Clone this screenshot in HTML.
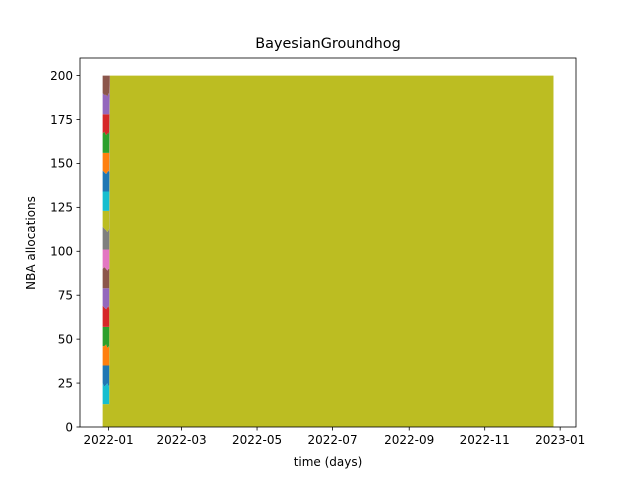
<!DOCTYPE html>
<html><head><meta charset="utf-8"><style>
body{margin:0;background:#fff;}
svg text{font-family:"DejaVu Sans","Liberation Sans",sans-serif;}
</style></head><body>
<svg id="chart" width="640" height="480">
<rect width="640" height="480" fill="#fff"/>
<g id="plot"></g>
<g id="axes"></g>
<text x="328" y="48" font-size="14.4" text-anchor="middle">BayesianGroundhog</text>
<text x="328" y="466" font-size="12" text-anchor="middle">time (days)</text>
<text transform="translate(35,243) rotate(-90)" font-size="12" text-anchor="middle">NBA allocations</text>
</svg>
<script>
// days relative to 2022-01-01
const days = [-4.8, -3.5, -2, -1, 0, 0.5, 1, 359.6];
const seriesColors = ['#bcbd22','#17becf','#1f77b4','#ff7f0e','#2ca02c','#d62728','#9467bd','#8c564b','#e377c2','#7f7f7f',
                      '#bcbd22','#17becf','#1f77b4','#ff7f0e','#2ca02c','#d62728','#9467bd','#8c564b'];
const s0 = [13, 13, 13, 13, 13, 13, 200, 200];
const s1 = [12, 10, 11, 12, 10, 11, 0, 0];
const s2 = [10, 12, 11, 10, 12, 11, 0, 0];
const s3 = [11, 11, 12, 10, 11, 10, 0, 0];
const s4 = [11, 11, 10, 12, 11, 12, 0, 0];
const s5 = [12, 11, 10, 11, 12, 10, 0, 0];
const s6 = [10, 11, 12, 11, 10, 12, 0, 0];
const s7 = [11, 12, 11, 10, 11, 11, 0, 0];
const s8 = [11, 10, 11, 12, 11, 11, 0, 0];
const s9 = [13, 12, 11, 10, 11, 12, 0, 0];
const s10 = [9, 10, 11, 12, 11, 10, 0, 0];
const s11 = [11, 11, 11, 11, 11, 11, 0, 0];
const s12 = [12, 11, 10, 11, 12, 11, 0, 0];
const s13 = [10, 11, 12, 11, 10, 11, 0, 0];
const s14 = [11, 12, 10, 11, 11, 12, 0, 0];
const s15 = [11, 10, 12, 11, 11, 10, 0, 0];
const s16 = [12, 11, 11, 10, 12, 11, 0, 0];
const s17 = [10, 11, 11, 12, 10, 11, 0, 0];
const series = [s0,s1,s2,s3,s4,s5,s6,s7,s8,s9,s10,s11,s12,s13,s14,s15,s16,s17];
const xTickDays = [0, 59, 120, 181, 243, 304, 365];
const xTickLabels = ['2022-01','2022-03','2022-05','2022-07','2022-09','2022-11','2023-01'];
const yTicks = [0, 25, 50, 75, 100, 125, 150, 175, 200];

const L=80, R=576, T=58, B=427;
const xmin=-23.1, xmax=377.8, ymin=0, ymax=210;
const X=d=>L+(d-xmin)/(xmax-xmin)*(R-L);
const Y=v=>B-(v-ymin)/(ymax-ymin)*(B-T);
const NS='http://www.w3.org/2000/svg';
const plot=document.getElementById('plot'), axes=document.getElementById('axes');

let base=days.map(()=>0);
series.forEach((s,i)=>{
  const top=base.map((b,j)=>b+s[j]);
  let d='M'+days.map((t,j)=>X(t).toFixed(2)+','+Y(top[j]).toFixed(2)).join('L');
  for(let j=days.length-1;j>=0;j--) d+='L'+X(days[j]).toFixed(2)+','+Y(base[j]).toFixed(2);
  d+='Z';
  const p=document.createElementNS(NS,'path');
  p.setAttribute('d',d);
  p.setAttribute('fill',seriesColors[i]);
  
  
  plot.appendChild(p);
  base=top;
});

const frame=document.createElementNS(NS,'rect');
frame.setAttribute('x',L);frame.setAttribute('y',T);
frame.setAttribute('width',R-L);frame.setAttribute('height',B-T);
frame.setAttribute('fill','none');frame.setAttribute('stroke','#000');frame.setAttribute('stroke-width','0.8');


axes.appendChild(frame);

xTickDays.forEach((d,i)=>{
  const x=X(d);
  const l=document.createElementNS(NS,'line');
  l.setAttribute('x1',x);l.setAttribute('x2',x);l.setAttribute('y1',B);l.setAttribute('y2',B+3.5);
  l.setAttribute('stroke','#000');l.setAttribute('stroke-width','0.8');
  
  
  axes.appendChild(l);
  const t=document.createElementNS(NS,'text');
  t.setAttribute('x',x);t.setAttribute('y',B+17);t.setAttribute('font-size','12');t.setAttribute('text-anchor','middle');
  t.textContent=xTickLabels[i];
  
  
  axes.appendChild(t);
});
yTicks.forEach(v=>{
  const y=Y(v);
  const l=document.createElementNS(NS,'line');
  l.setAttribute('x1',L-3.5);l.setAttribute('x2',L);l.setAttribute('y1',y);l.setAttribute('y2',y);
  l.setAttribute('stroke','#000');l.setAttribute('stroke-width','0.8');
  
  
  axes.appendChild(l);
  const t=document.createElementNS(NS,'text');
  t.setAttribute('x',L-7);t.setAttribute('y',y+4.3);t.setAttribute('font-size','12');t.setAttribute('text-anchor','end');
  t.textContent=v;
  
  
  axes.appendChild(t);
});
</script>
</body></html>
